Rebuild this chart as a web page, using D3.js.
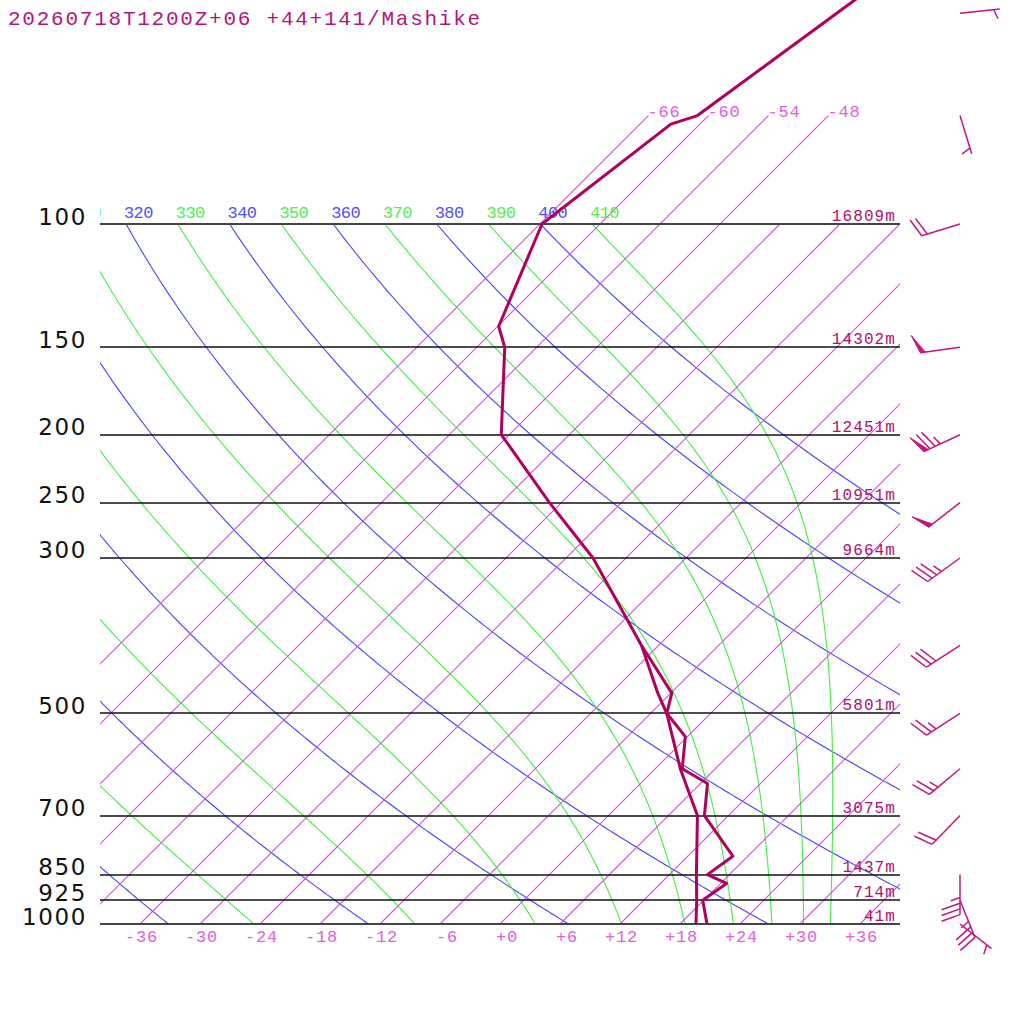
<!DOCTYPE html>
<html>
<head>
<meta charset="utf-8">
<script src="https://cdn.jsdelivr.net/npm/d3@7"></script>
<style>
html,body{margin:0;padding:0;background:#fff;}
svg{display:block;}
</style>
</head>
<body>
<svg id="chart" width="1024" height="1024"></svg>
<script>
// ---------------- data ----------------
const title = "20260718T1200Z+06 +44+141/Mashike";
const levels = [1000, 925, 850, 700, 500, 300, 250, 200, 150, 100];
const levelHeights = [41, 714, 1437, 3075, 5801, 9664, 10951, 12451, 14302, 16809];
const isotherms = [-66, -60, -54, -48, -42, -36, -30, -24, -18, -12, -6, 0, 6, 12, 18, 24, 30, 36];
const isothermTopLabels = [-66, -60, -54, -48];
const tempTicks = [-36, -30, -24, -18, -12, -6, 0, 6, 12, 18, 24, 30, 36];
const dryThetas = [240, 260, 280, 300, 320, 340, 360, 380, 400];
const moistThetaEs = [250, 270, 290, 310, 330, 350, 370, 390, 410];
// temperature profile
const tempP = [1000, 925, 875, 850, 800, 700, 630, 600, 540, 500, 468, 400, 300, 250, 200, 150, 140, 100, 72, 70, 50, 30];
const tempT = [20.7, 17.9, 18.6, 15.8, 16.5, 9.6, 6.7, 2.7, -0.2, -4.4, -5.9, -13.7, -27.3, -37.2, -48.8, -57.2, -59.9, -65.8, -62.9, -61.1, -57.4, -51.8];
// dew point profile
const dewP = [1000, 925, 850, 700, 600, 500, 468, 400];
const dewT = [19.6, 17.3, 14.7, 8.9, 2.5, -4.4, -7.3, -13.7];
// winds
const windP = [1000, 925, 850, 700, 600, 500, 400, 300, 250, 200, 150, 100, 70, 50];
const windDir = [128, 158, 180, 224, 230, 237, 237, 234, 232, 245, 262, 253, 163, 84];
const windKt = [5, 35, 35, 20, 25, 25, 30, 35, 50, 75, 50, 20, 5, 5];

// ---------------- scales ----------------
const svg = d3.select("#chart");
const X0 = 100, X1 = 900;
const yScale = d3.scaleLog().domain([1000, 100]).range([924, 224]);
const tScale = d3.scaleLinear().domain([0, 1]).range([500, 510]);
const yBase = yScale(1000);
function sx(T, p) { return tScale(T) + (yBase - yScale(p)); }
const KAPPA = 0.2857, ZK = 273.15;

const COL_ISO = "rgb(230,66,240)", COL_DRY = "rgb(68,68,255)", COL_MOIST = "rgb(64,240,64)";

// clip paths
const defs = svg.append("defs");
defs.append("clipPath").attr("id", "plotClip").append("rect")
  .attr("x", X0).attr("y", 0).attr("width", X1 - X0).attr("height", yBase);
defs.append("clipPath").attr("id", "isoClip").append("rect")
  .attr("x", X0).attr("y", 0).attr("width", X1 - X0).attr("height", yBase);
defs.append("clipPath").attr("id", "labClip").append("rect")
  .attr("x", X0).attr("y", 180).attr("width", X1 - X0).attr("height", 50);

const pathLine = d3.line().x(d => d[0]).y(d => d[1]);
const bg = svg.append("g").attr("clip-path", "url(#plotClip)");

const pSamples = d3.range(100, 1001, 5);

// dry adiabats
dryThetas.forEach(th => {
  const pts = pSamples.map(p => [sx(th * Math.pow(p / 1000, KAPPA) - ZK, p), yScale(p)]);
  bg.append("path").attr("d", pathLine(pts)).attr("fill", "none")
    .attr("stroke", COL_DRY).attr("stroke-width", 1.1);
});

// moist pseudo-adiabats, integrated from 100 hPa downward
function dTdp(T, p) {
  const Rd = 287.04, cp = 1005.7, Lv = 2.501e6, eps = 0.622;
  const es = 6.112 * Math.exp(17.67 * (T - 273.15) / (T - 29.65));
  const rs = eps * es / (p - es);
  const num = Rd * T + Lv * rs;
  const den = cp + Lv * Lv * rs * eps / (Rd * T * T);
  return num / (den * p);
}
const moistTops = [];
moistThetaEs.forEach(te => {
  let p = 100, T = te * Math.pow(0.1, KAPPA);
  const pts = [[sx(T - ZK, p), yScale(p)]];
  moistTops.push([te, sx(T - ZK, p)]);
  const dp = 1;
  while (p < 1000) {
    const k1 = dTdp(T, p);
    const k2 = dTdp(T + k1 * dp / 2, p + dp / 2);
    const k3 = dTdp(T + k2 * dp / 2, p + dp / 2);
    const k4 = dTdp(T + k3 * dp, p + dp);
    T += dp * (k1 + 2 * k2 + 2 * k3 + k4) / 6;
    p += dp;
    if (p % 5 === 0) pts.push([sx(T - ZK, p), yScale(p)]);
  }
  bg.append("path").attr("d", pathLine(pts)).attr("fill", "none")
    .attr("stroke", COL_MOIST).attr("stroke-width", 1.1);
});

// isotherms (own group)
const isoG = svg.append("g").attr("clip-path", "url(#isoClip)");
isoG.selectAll("line.iso").data(isotherms).join("line")
  .attr("class", "iso")
  .attr("x1", T => sx(T, 1000)).attr("y1", yScale(1000))
  .attr("x2", T => sx(T, isothermTopLabels.includes(T) ? 70 : 100))
  .attr("y2", T => yScale(isothermTopLabels.includes(T) ? 70 : 100))
  .attr("stroke", COL_ISO).attr("stroke-width", 1.1);

// pressure lines
levels.forEach(p => {
  const edge = (p === 1000 || p === 100);
  svg.append("line").attr("x1", X0).attr("x2", X1)
    .attr("y1", Math.round(yScale(p))).attr("y2", Math.round(yScale(p)))
    .attr("stroke", edge ? "#444" : "#111").attr("stroke-width", edge ? 2 : 1.5);
});

// theta labels at 100 hPa (only those reaching the plot)
const labG = svg.append("g").attr("clip-path", "url(#labClip)")
  .attr("font-family", "Liberation Mono, DejaVu Sans Mono, monospace")
  .attr("font-size", 17).attr("letter-spacing", -0.6);
dryThetas.forEach(th => {
  const x = sx(th * Math.pow(0.1, KAPPA) - ZK, 100);
  if (x < 70) return;
  labG.append("text").attr("x", x - 2).attr("y", yScale(100) - 6)
    .attr("fill", "#5050ff").text(th);
});
moistTops.forEach(([te, x]) => {
  if (x < 70) return;
  labG.append("text").attr("x", x - 2).attr("y", yScale(100) - 6)
    .attr("fill", "#50ee50").text(te);
});

// isotherm top labels
isothermTopLabels.forEach(T => {
  svg.append("text").attr("x", sx(T, 70) - 1).attr("y", yScale(70) + 1)
    .attr("font-family", "Liberation Mono, monospace").attr("font-size", 17)
    .attr("letter-spacing", 0.8).attr("fill", "#e060e0").text(T);
});

// bottom temperature labels
tempTicks.forEach(T => {
  svg.append("text").attr("x", sx(T, 1000) + 18).attr("y", 942)
    .attr("text-anchor", "end")
    .attr("font-family", "Liberation Mono, monospace").attr("font-size", 17)
    .attr("letter-spacing", 0.8).attr("fill", "#e060e0")
    .text((T >= 0 ? "+" : "") + T);
});

// pressure labels (left)
levels.forEach(p => {
  svg.append("text").attr("x", 87).attr("y", yScale(p) + 0.5)
    .attr("text-anchor", "end")
    .attr("font-family", "DejaVu Sans, sans-serif").attr("font-size", 23)
    .attr("letter-spacing", 1.6).attr("fill", "#111").text(p);
});

// height labels (right)
levels.forEach((p, i) => {
  svg.append("text").attr("x", 896).attr("y", yScale(p) - 3)
    .attr("text-anchor", "end")
    .attr("font-family", "Liberation Mono, monospace").attr("font-size", 16)
    .attr("letter-spacing", 1.1).attr("fill", "#b01070").text(levelHeights[i] + "m");
});

// profiles
const profLine = d3.line().x(d => sx(d[1], d[0])).y(d => yScale(d[0]));
svg.append("path").attr("d", profLine(dewP.map((p, i) => [p, dewT[i]])))
  .attr("fill", "none").attr("stroke", "#b0005c").attr("stroke-width", 3)
  .attr("stroke-linejoin", "round");
svg.append("path").attr("d", profLine(tempP.map((p, i) => [p, tempT[i]])))
  .attr("fill", "none").attr("stroke", "#b0005c").attr("stroke-width", 3)
  .attr("stroke-linejoin", "round");

// wind barbs
const barbG = svg.append("g").attr("stroke", "#c0187c").attr("stroke-width", 1.5)
  .attr("fill", "#c0187c");
function drawBarb(p, dir, spd) {
  const ax = 960, ay = yScale(p);
  const th = dir * Math.PI / 180;
  const dx = Math.sin(th), dy = -Math.cos(th);
  const px = -dy, py = dx;
  const L = 40;
  const pt = a => [ax + dx * a, ay + dy * a];
  barbG.append("line").attr("x1", ax).attr("y1", ay)
    .attr("x2", pt(L)[0]).attr("y2", pt(L)[1]);
  let s = Math.round(spd / 5) * 5;
  const n50 = Math.floor(s / 50); s -= n50 * 50;
  const n10 = Math.floor(s / 10); s -= n10 * 10;
  const n5 = s >= 5 ? 1 : 0;
  let pos = (n50 === 0 && n10 === 0) ? L - 6 : L;
  for (let i = 0; i < n50; i++) {
    const b = pt(pos), c = pt(pos - 5);
    const tip = [b[0] + px * 18.4 + dx * 6.6, b[1] + py * 18.4 + dy * 6.6];
    barbG.append("polygon").attr("points", [b, tip, c].map(q => q.join(",")).join(" "))
      .attr("stroke-width", 1).attr("stroke-linejoin", "miter");
    pos -= 7;
  }
  for (let i = 0; i < n10; i++) {
    const b = pt(pos);
    barbG.append("line").attr("x1", b[0]).attr("y1", b[1])
      .attr("x2", b[0] + px * 18.4 + dx * 6.6).attr("y2", b[1] + py * 18.4 + dy * 6.6);
    pos -= 5.7;
  }
  if (n5) {
    const b = pt(pos);
    barbG.append("line").attr("x1", b[0]).attr("y1", b[1])
      .attr("x2", b[0] + px * 9.2 + dx * 3.3).attr("y2", b[1] + py * 9.2 + dy * 3.3);
  }
}
windP.forEach((p, i) => drawBarb(p, windDir[i], windKt[i]));

// title
svg.append("text").attr("x", 8).attr("y", 25)
  .attr("font-family", "Liberation Mono, monospace").attr("font-size", 21)
  .attr("letter-spacing", 1.76).attr("fill", "#b4157a").text(title);
</script>
</body>
</html>
